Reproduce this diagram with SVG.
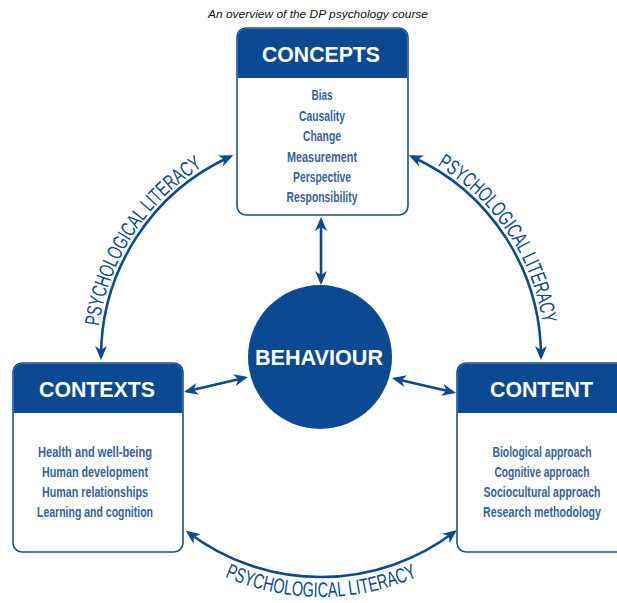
<svg xmlns="http://www.w3.org/2000/svg" width="617" height="603" viewBox="0 0 617 603">
<style>
.box{fill:#ffffff;stroke:#1a4f94;stroke-width:1.6}
.hdr{fill:#0b4a92}
.htxt{font-family:"Liberation Sans",Arial,sans-serif;font-weight:bold;font-size:22px;fill:#ffffff;text-anchor:middle}
.item{font-family:"Liberation Sans",Arial,sans-serif;font-weight:bold;font-size:15px;fill:#3562a0;text-anchor:middle}
.conn{fill:none;stroke:#0b4a92;stroke-width:2.6;marker-start:url(#ah);marker-end:url(#ah)}
.arc{font-family:"Liberation Sans",Arial,sans-serif;font-size:21px;fill:#0b4a92}
.title{font-family:"Liberation Sans",Arial,sans-serif;font-style:italic;font-size:11px;fill:#111111;text-anchor:middle}
</style>
<defs>
<marker id="ah" markerUnits="userSpaceOnUse" markerWidth="14" markerHeight="12" refX="11" refY="6" orient="auto-start-reverse" viewBox="0 0 14 12">
<path d="M0,0 L14,6 L0,12 L4,6 Z" fill="#0b4a92"/>
</marker>
<path id="tpL" d="M101.9,403.6 A224,224 0 0 1 274.4,137.9"/>
<path id="tpR" d="M364.9,137.3 A224,224 0 0 1 540.7,400.9"/>
<path id="tpB" d="M151.3,526.7 A240,240 0 0 0 490.7,526.7"/>
</defs>
<text class="title" x="318" y="17.5" textLength="220" lengthAdjust="spacingAndGlyphs">An overview of the DP psychology course</text>
<g id="connectors">
<path class="conn" d="M321,220 L321,282"/>
<path class="conn" d="M186.9,391.3 L245.1,377.7"/>
<path class="conn" d="M394.9,378.7 L453.1,392.3"/>
<path class="conn" d="M101,357 A220,220 0 0 1 230.5,156.5"/>
<path class="conn" d="M411.5,156.5 A220,220 0 0 1 541,357"/>
<path class="conn" d="M188.3,532.5 A220,220 0 0 0 454.6,531.8"/>
<text class="arc"><textPath href="#tpL" startOffset="50%" text-anchor="middle" textLength="196" lengthAdjust="spacingAndGlyphs">PSYCHOLOGICAL LITERACY</textPath></text>
<text class="arc"><textPath href="#tpR" startOffset="50%" text-anchor="middle" textLength="196" lengthAdjust="spacingAndGlyphs">PSYCHOLOGICAL LITERACY</textPath></text>
<text class="arc"><textPath href="#tpB" startOffset="50%" text-anchor="middle" textLength="198" lengthAdjust="spacingAndGlyphs">PSYCHOLOGICAL LITERACY</textPath></text>
</g>
<g id="concepts">
<rect class="box" x="237" y="28" width="171" height="187" rx="9"/>
<path class="hdr" d="M237.8,78 L237.8,37 A8.2,8.2 0 0 1 246,28.8 L399,28.8 A8.2,8.2 0 0 1 407.2,37 L407.2,78 Z"/>
<text class="htxt" x="321" y="62" textLength="118" lengthAdjust="spacingAndGlyphs">CONCEPTS</text>
<text class="item" x="322" y="100" textLength="21" lengthAdjust="spacingAndGlyphs">Bias</text>
<text class="item" x="322" y="121" textLength="46" lengthAdjust="spacingAndGlyphs">Causality</text>
<text class="item" x="322" y="141" textLength="38" lengthAdjust="spacingAndGlyphs">Change</text>
<text class="item" x="322" y="162" textLength="70" lengthAdjust="spacingAndGlyphs">Measurement</text>
<text class="item" x="322" y="182" textLength="58" lengthAdjust="spacingAndGlyphs">Perspective</text>
<text class="item" x="322" y="202" textLength="71" lengthAdjust="spacingAndGlyphs">Responsibility</text>
</g>
<g id="contexts">
<rect class="box" x="13" y="363" width="170" height="189" rx="9"/>
<path class="hdr" d="M13.8,413 L13.8,372 A8.2,8.2 0 0 1 22,363.8 L174,363.8 A8.2,8.2 0 0 1 182.2,372 L182.2,413 Z"/>
<text class="htxt" x="97" y="397" textLength="116" lengthAdjust="spacingAndGlyphs">CONTEXTS</text>
<text class="item" x="95" y="457" textLength="114" lengthAdjust="spacingAndGlyphs">Health and well-being</text>
<text class="item" x="95" y="477" textLength="106" lengthAdjust="spacingAndGlyphs">Human development</text>
<text class="item" x="95" y="497" textLength="106" lengthAdjust="spacingAndGlyphs">Human relationships</text>
<text class="item" x="95" y="517" textLength="116" lengthAdjust="spacingAndGlyphs">Learning and cognition</text>
</g>
<g id="content">
<rect class="box" x="457" y="363" width="175" height="189" rx="9"/>
<path class="hdr" d="M457.8,413 L457.8,372 A8.2,8.2 0 0 1 466,363.8 L623,363.8 A8.2,8.2 0 0 1 631.2,372 L631.2,413 Z"/>
<text class="htxt" x="541.5" y="397" textLength="103" lengthAdjust="spacingAndGlyphs">CONTENT</text>
<text class="item" x="542" y="457" textLength="99" lengthAdjust="spacingAndGlyphs">Biological approach</text>
<text class="item" x="542" y="477" textLength="95" lengthAdjust="spacingAndGlyphs">Cognitive approach</text>
<text class="item" x="542" y="497" textLength="117" lengthAdjust="spacingAndGlyphs">Sociocultural approach</text>
<text class="item" x="542" y="517" textLength="118" lengthAdjust="spacingAndGlyphs">Research methodology</text>
</g>
<g id="behaviour">
<circle cx="320" cy="357" r="72" fill="#0b4a92"/>
<text class="htxt" x="319" y="365" font-size="21" textLength="128" lengthAdjust="spacingAndGlyphs">BEHAVIOUR</text>
</g>
</svg>
